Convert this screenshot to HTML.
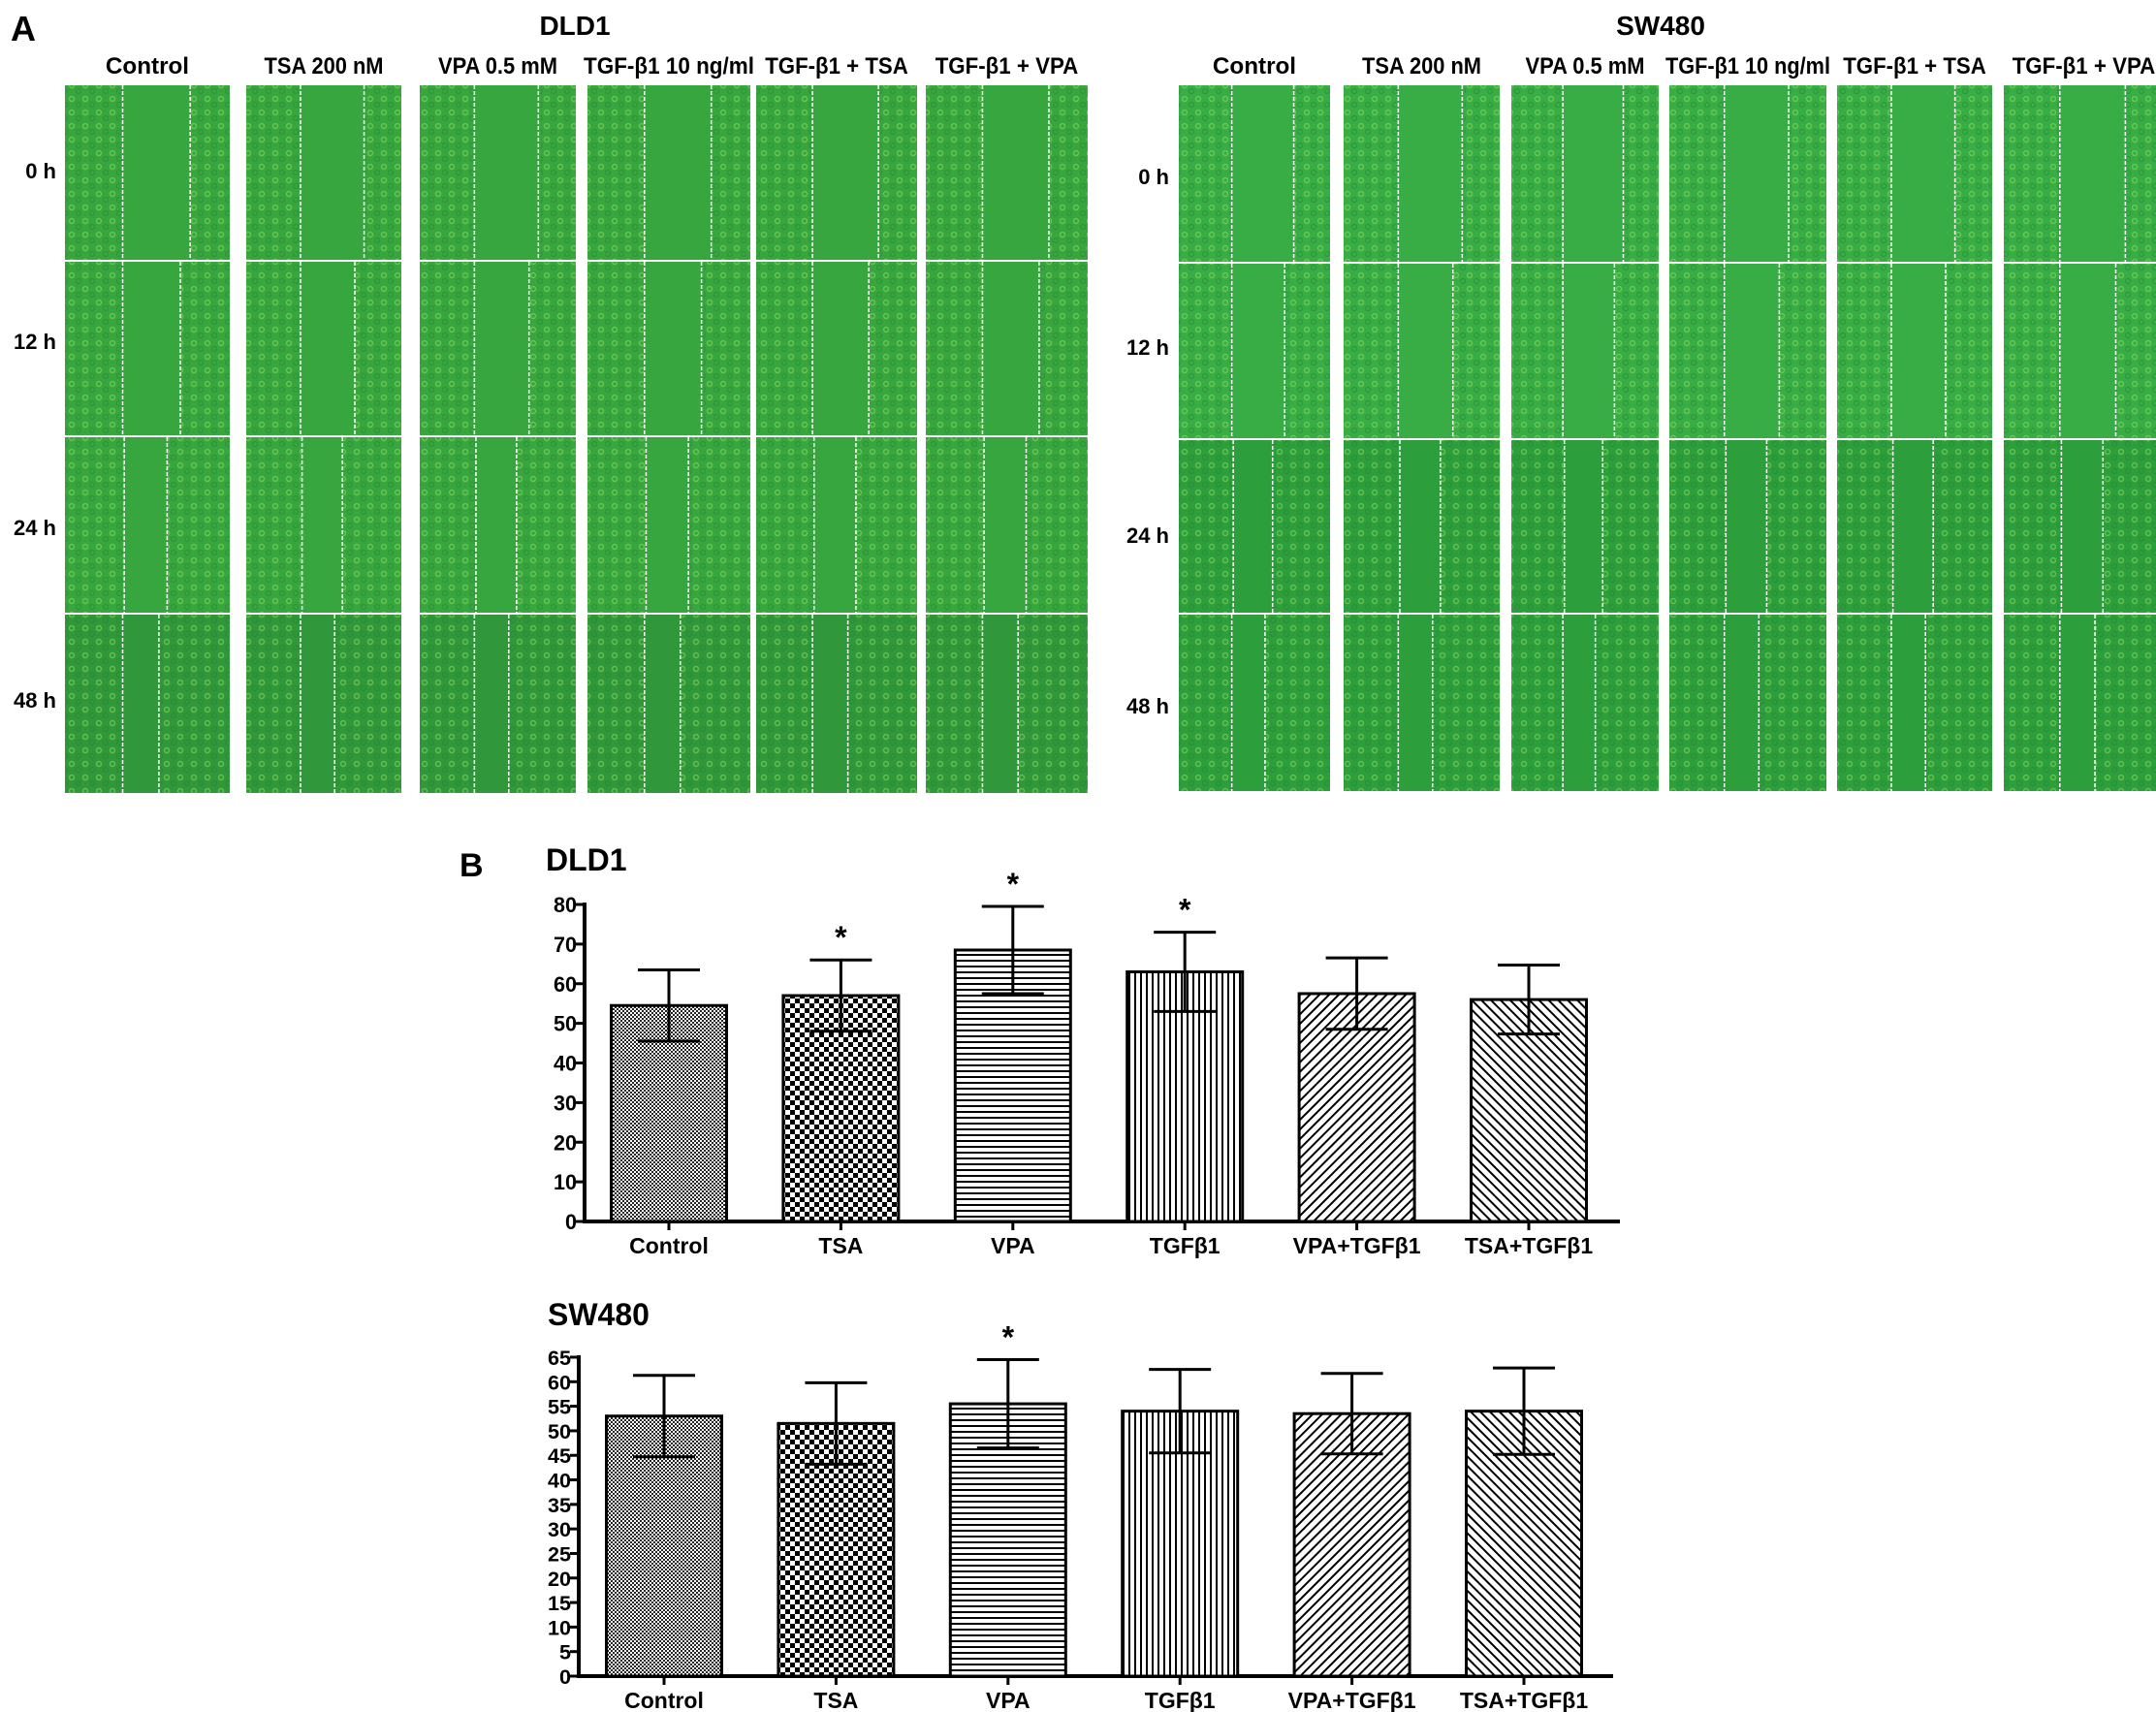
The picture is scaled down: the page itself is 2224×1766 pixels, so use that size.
<!DOCTYPE html>
<html><head><meta charset="utf-8"><style>
html,body{margin:0;padding:0;background:#fff;}
svg{display:block;font-family:"Liberation Sans",sans-serif;}
</style></head><body>
<svg id="fig" width="2224" height="1766" viewBox="0 0 2224 1766">
<defs>
<pattern id="pCtrl" width="4" height="4" patternUnits="userSpaceOnUse"><rect width="4" height="4" fill="#fff"/><rect width="2" height="2" fill="#222"/><rect x="2" y="2" width="2" height="2" fill="#222"/></pattern>
<pattern id="pTsa" width="10" height="10" patternUnits="userSpaceOnUse"><rect width="10" height="10" fill="#fff"/><rect width="5" height="5" fill="#000"/><rect x="5" y="5" width="5" height="5" fill="#000"/></pattern>
<pattern id="pVpa" width="6" height="6" patternUnits="userSpaceOnUse"><rect width="6" height="6" fill="#fff"/><rect width="6" height="2" fill="#000"/></pattern>
<pattern id="pTgf" width="6" height="6" patternUnits="userSpaceOnUse"><rect width="6" height="6" fill="#fff"/><rect width="2" height="6" fill="#000"/></pattern>
<pattern id="pVt" width="7" height="7" patternUnits="userSpaceOnUse" patternTransform="rotate(45)"><rect width="7" height="7" fill="#fff"/><rect width="2" height="7" fill="#000"/></pattern>
<pattern id="pTt" width="7" height="7" patternUnits="userSpaceOnUse" patternTransform="rotate(-45)"><rect width="7" height="7" fill="#fff"/><rect width="2" height="7" fill="#000"/></pattern>
<pattern id="cells" width="14" height="14" patternUnits="userSpaceOnUse"><circle cx="4" cy="4" r="2.5" fill="none" stroke="#8fdc5a" stroke-opacity="0.55" stroke-width="1.4"/><circle cx="11" cy="10" r="2.5" fill="none" stroke="#1f7f2e" stroke-opacity="0.45" stroke-width="1.2"/></pattern>
</defs>
<g id="panelA"></g>
<g id="panelB"></g>
</svg>
<script>
const NS='http://www.w3.org/2000/svg';
function mk(tag,attrs,parent){const e=document.createElementNS(NS,tag);for(const k in attrs)e.setAttribute(k,attrs[k]);parent.appendChild(e);return e;}
function txt(s,attrs,parent){const e=mk('text',attrs,parent);e.textContent=s;return e;}

// ---------- Panel A (micrographs) ----------
const colHeaders=['Control','TSA 200 nM','VPA 0.5 mM','TGF-β1 10 ng/ml','TGF-β1 + TSA','TGF-β1 + VPA'];
const rowLabels=['0 h','12 h','24 h','48 h'];
const A=document.getElementById('panelA');
let t=txt('A',{x:11,y:42,'font-size':36,'font-weight':'bold'},A);

const groups=[
 {name:'DLD1',cx:593,cols:[[67,237],[254,414],[433,594],[606,774],[780,946],[955,1122]],rows:[88,270,451,634,820],rowX:58,rowY:[184,360,552,730]},
 {name:'SW480',cx:1713,cols:[[1216,1372],[1386,1547],[1559,1711],[1722,1884],[1895,2055],[2067,2232]],rows:[88,272,454,634,818],rowX:1206,rowY:[190,366,560,736]}
];
const gapL=[0.35,0.35,0.36,0.35];
const gapR=[0.76,0.7,0.62,0.57];
groups.forEach((g,gi)=>{
 const G=mk('g',{},A);
 
 let tt=txt(g.name,{x:g.cx,y:36,'font-size':28,'font-weight':'bold','text-anchor':'middle'},G);
 
 g.cols.forEach((c,ci)=>{
  let h=txt(colHeaders[ci],{x:(c[0]+c[1])/2,y:76,'font-size':24,'font-weight':'bold','text-anchor':'middle',textLength:Math.min(c[1]-c[0]+8,colHeaders[ci].length*12.3),lengthAdjust:'spacingAndGlyphs'},G);
  
  for(let r=0;r<4;r++){
   const y0=g.rows[r],y1=g.rows[r+1]-2,w=c[1]-c[0];
   const dark=gi==0?(r==3?'#30983a':'#38a63f'):(r>=2?'#2d9e3c':'#38ad45');
   let im=mk('rect',{x:c[0],y:y0,width:w,height:y1-y0,fill:dark},G);
   
   mk('rect',{x:c[0],y:y0,width:w*gapL[r],height:y1-y0,fill:'url(#cells)'},G);
   mk('rect',{x:c[0]+w*gapR[r],y:y0,width:w*(1-gapR[r]),height:y1-y0,fill:'url(#cells)'},G);
   [gapL[r],gapR[r]].forEach(f=>{
    let l=mk('line',{x1:c[0]+w*f,x2:c[0]+w*f,y1:y0,y2:y1,stroke:'#fff','stroke-width':1.5,'stroke-dasharray':'4 2'},G);
    
   });
  }
 });
 rowLabels.forEach((s,ri)=>{
  let rl=txt(s,{x:g.rowX,y:g.rowY[ri],'font-size':22,'font-weight':'bold','text-anchor':'end'},G);
  
 });
});

// ---------- Panel B (bar charts) ----------
const categories=['Control','TSA','VPA','TGFβ1','VPA+TGFβ1','TSA+TGFβ1'];
const dldMeans=[54.5,57,68.5,63,57.5,56];
const dldErr=[9,9,11,10,9,8.7];
const dldSig=[false,true,true,true,false,false];
const dldTicks=[0,10,20,30,40,50,60,70,80];
const swMeans=[53,51.5,55.5,54,53.5,54];
const swErr=[8.3,8.3,9,8.5,8.2,8.8];
const swSig=[false,false,true,false,false,false];
const swTicks=[0,5,10,15,20,25,30,35,40,45,50,55,60,65];
const fills=['url(#pCtrl)','url(#pTsa)','url(#pVpa)','url(#pTgf)','url(#pVt)','url(#pTt)'];
const B=document.getElementById('panelB');
t=txt('B',{x:474,y:904,'font-size':34,'font-weight':'bold'},B);


function chart(o){
 const G=mk('g',{},B);
 
 let tt=txt(o.title,{x:o.titleX,y:o.titleY,'font-size':32,'font-weight':'bold'},G);
 
 const ymax=o.ticks[o.ticks.length-1];
 const Y=v=>o.y0-(o.y0-o.yTop)*v/ymax;
 const X=i=>o.x0+o.firstC+i*o.step;
 let ax=mk('line',{x1:o.x0,x2:o.x0,y1:Y(ymax)-2,y2:o.y0,stroke:'#000','stroke-width':4},G);
 
 let xa=mk('line',{x1:o.x0-2,x2:o.xEnd,y1:o.y0,y2:o.y0,stroke:'#000','stroke-width':4},G);
 
 o.ticks.forEach(v=>{
  mk('line',{x1:o.x0-9,x2:o.x0,y1:Y(v),y2:Y(v),stroke:'#000','stroke-width':3},G);
  let l=txt(String(v),{x:o.x0-8,y:Y(v)+8,'font-size':o.tfs,'font-weight':'bold','text-anchor':'end',textLength:String(v).length*12,lengthAdjust:'spacingAndGlyphs'},G);
  
 });
 categories.forEach((c,i)=>{
  const cx=X(i),m=o.means[i],e=o.err[i];
  let b=mk('rect',{x:cx-o.bw/2,y:Y(m),width:o.bw,height:o.y0-Y(m),fill:fills[i],stroke:'#000','stroke-width':3},G);
  
  let eb=mk('path',{d:`M${cx},${Y(m-e)}V${Y(m+e)}M${cx-32},${Y(m+e)}H${cx+32}M${cx-32},${Y(m-e)}H${cx+32}`,stroke:'#000','stroke-width':3,fill:'none'},G);
  
  mk('line',{x1:cx,x2:cx,y1:o.y0,y2:o.y0+9,stroke:'#000','stroke-width':3},G);
  let cl=txt(c,{x:cx,y:o.labY,'font-size':23,'font-weight':'bold','text-anchor':'middle'},G);
  
  if(o.sig[i]){
   let s=txt('*',{x:cx,y:Y(m+e)-12,'font-size':32,'font-weight':'bold','text-anchor':'middle'},G);
   
  }
 });
}
chart({name:'dld1-bar-chart',title:'DLD1',titleX:563,titleY:898,x0:603,xEnd:1671,y0:1260,yTop:933,firstC:87,step:177.4,bw:119,ticks:dldTicks,means:dldMeans,err:dldErr,sig:dldSig,labY:1293,tfs:22});
chart({name:'sw480-bar-chart',title:'SW480',titleX:565,titleY:1367,x0:597,xEnd:1664,y0:1729,yTop:1400,firstC:88,step:177.4,bw:119,ticks:swTicks,means:swMeans,err:swErr,sig:swSig,labY:1762,tfs:21});
</script>
</body></html>
